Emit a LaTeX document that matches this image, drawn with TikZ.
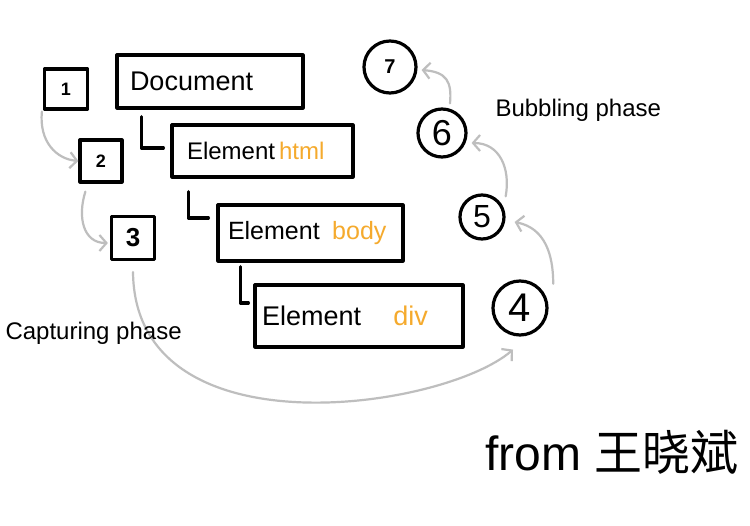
\documentclass[tikz,border=0pt]{standalone}
\usepackage{fontspec}
\setmainfont{Liberation Sans}
\newfontfamily\cjk{Noto Sans CJK SC}
\usetikzlibrary{arrows.meta,calc}
\definecolor{hlorange}{RGB}{245,170,45}
\definecolor{arrgray}{RGB}{190,190,190}
\begin{document}
\begin{tikzpicture}[x=1pt,y=-1pt,
  ink/.style={line width=3.2pt, line cap=round, line join=round},
  elbox/.style={draw, ink, inner ysep=0pt, align=left, anchor=center},
  numbox/.style={draw, ink, inner sep=0pt},
  numcirc/.style={draw, ink, circle, inner sep=0pt},
  tree/.style={ink},
  flow/.style={arrgray, line width=2.2pt, line cap=round,
    -{Straight Barb[length=7pt,width=16pt,line width=2.2pt]}},
  lbl/.style={anchor=west, font=\fontsize{24}{28}\selectfont}
]
\fill[white] (0,0) rectangle (750,526);
\useasboundingbox (0,0) rectangle (750,526);

% element boxes
\node[elbox, inner xsep=13pt, text width=160pt, minimum height=53pt,
  font=\fontsize{27}{30}\selectfont] (doc) at (210,81.5) {Document};
\node[elbox, inner xsep=15pt, text width=151pt, minimum height=52pt,
  font=\fontsize{24}{28}\selectfont] (html) at (262.5,151) {Element\,\textcolor{hlorange}{html}};
\node[elbox, inner xsep=10pt, text width=165pt, minimum height=56pt,
  font=\fontsize{25}{28}\selectfont] (body) at (310.5,233) {Element\hspace{0.5em}\textcolor{hlorange}{body}};
\node[elbox, inner xsep=7pt, text width=194pt, minimum height=62pt,
  font=\fontsize{27}{30}\selectfont] (div) at (359,316) {Element\hspace{1.2em}\textcolor{hlorange}{div}};

% tree connectors
\draw[tree] ($(doc.south west)+(26,7)$) |- ($(html.west)+(-7,-3)$);
\draw[tree] ($(html.south west)+(18,13)$) |- ($(body.west)+(-8,-15)$);
\draw[tree] ($(body.south west)+(24,4)$) |- ($(div.west)+(-5,-13)$);

% capturing steps
\node[numbox, minimum width=43pt, minimum height=40pt, font=\fontsize{18}{20}\selectfont\bfseries] (b1) at (66,89) {1};
\node[numbox, minimum width=42pt, minimum height=42pt, font=\fontsize{18}{20}\selectfont\bfseries] (b2) at (101,161) {2};
\node[numbox, minimum width=43pt, minimum height=43pt, font=\fontsize{26}{28}\selectfont\bfseries] (b3) at (133,238) {3};

% target and bubbling steps
\node[numcirc, minimum size=54pt, font=\fontsize{40}{42}\selectfont] (c4) at (520,308) {4};
\node[numcirc, minimum size=44pt, font=\fontsize{32}{34}\selectfont] (c5) at (482,217) {5};
\node[numcirc, minimum size=48pt, font=\fontsize{36}{38}\selectfont] (c6) at (442,133) {6};
\node[numcirc, minimum size=52pt, font=\fontsize{20}{22}\selectfont\bfseries] (c7) at (390,67) {7};

% flow arrows
\draw[flow] ($(b1.south west)+(-1,1)$) .. controls +(-3,30) and +(-22,-2) .. (b2.west);
\draw[flow] ($(b2.south west)+(7,8)$) .. controls +(-8,25) and +(-25,0) .. ($(b3.west)+(-2,5)$);
\draw[flow] ($(b3.south)+(0,11)$) .. controls +(2,183) and +(-70,60) .. ($(c4.south)+(-7,13)$);
\draw[flow] ($(c4.north east)+(13,-4)$) .. controls +(0,-30) and +(30,6) .. ($(c5.east)+(9,5)$);
\draw[flow] ($(c5.north east)+(7,-4)$) .. controls +(5,-28) and +(28,0) .. ($(c6.east)+(4,10)$);
\draw[flow] ($(c6.north)+(8,-4)$) .. controls +(2,-22) and +(25,2) .. ($(c7.east)+(4,3)$);

% labels
\node[lbl] (bub) at (492,110) {Bubbling phase};
\node[lbl] (cap) at (2,333) {Capturing phase};
\node[font=\fontsize{48}{54}\selectfont] (sig) at (612,452) {from {\cjk 王晓斌}};
\end{tikzpicture}
\end{document}
